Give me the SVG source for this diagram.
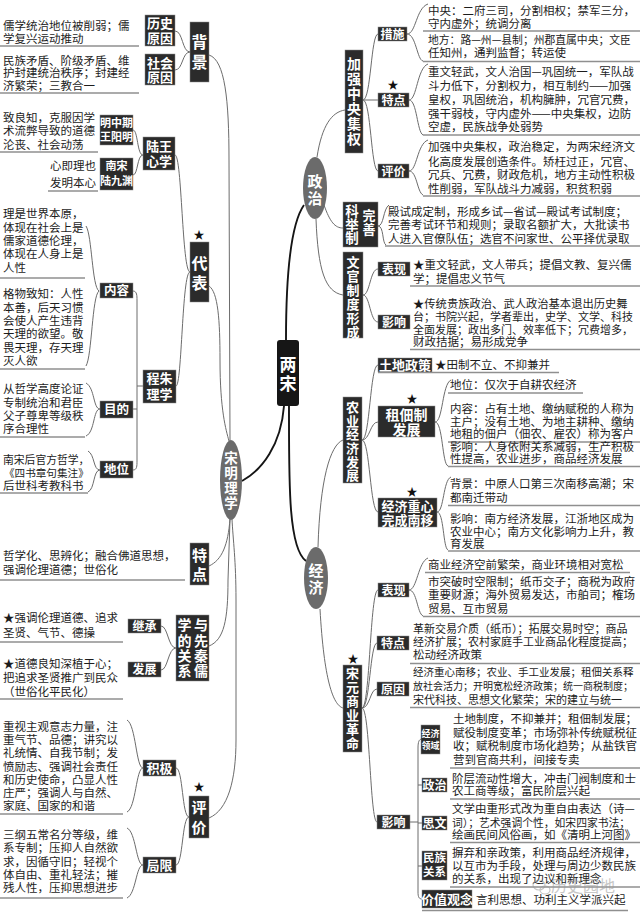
<svg xmlns="http://www.w3.org/2000/svg" width="640" height="914" viewBox="0 0 640 914">
<style>
text{font-family:"Noto Sans CJK SC","Noto Sans",sans-serif}
.lf{font-size:11.5px;fill:#1c1c1c}
.bx{fill:#2b2b2b;stroke:#8a8a8a;stroke-width:0.5}
.bt{fill:#fff;text-anchor:middle;font-weight:bold}
.ul{stroke:#8f8f8f;stroke-width:1.3;fill:none}
.cn path{fill:none;stroke:#6c6c6c;stroke-width:1}
.cn path.mn{stroke:#151515;stroke-width:1.9}
.el{fill:#6b6b6b}
.st{font-size:11px;fill:#111;text-anchor:middle}
</style>
<rect width="640" height="914" fill="#fff"/>
<g id="connectors" class="cn">
<path class="mn" d="M286,340 C286,270 292,222 304,205"/>
<path class="mn" d="M284,406 C281,445 262,470 242,481"/>
<path class="mn" d="M289,406 C289,480 288,548 306,561"/>
<path d="M209,55 C225,60 229,100 229,160 L230,441"/>
<path d="M209,286 C218,292 220,320 220,360 C220,410 226,430 229,441"/>
<path d="M209,566 C222,560 228,545 230,519"/>
<path d="M209,646 C224,640 228,620 228,580 L230,519"/>
<path d="M209,818 C228,810 236,780 236,740 L236,600 C236,560 233,540 232,519"/>
<path d="M190,52 C182,52 183,31 175,31 M190,52 C182,52 183,70 175,70"/>
<path d="M190,272 C182,272 182,155 175,155 M190,272 C182,272 182,386 176,386"/>
<path d="M143,155 C137,155 138,130 133,130 M143,155 C137,155 138,175 133,175"/>
<path d="M133,291 C137,291 137,296 137,300 L137,461 C137,466 137,470 133,470 M137,386 L143,386 M133,409 L137,409"/>
<path d="M99,291 C92,287 92,235 86,226 M99,291 C92,296 92,356 86,366"/>
<path d="M100,409 C93,409 95,388 86,383 M100,409 C93,409 95,432 86,436"/>
<path d="M100,470 C93,470 95,455 88,451 M100,470 C93,470 95,489 88,492"/>
<path d="M176,648 C168,648 168,626 161,626 M176,648 C168,648 168,670 161,670"/>
<path d="M189,817 C182,817 183,768 176,768 M189,817 C182,817 183,865 176,865"/>
<path d="M143,768 C136,768 136,725 127,720 M143,768 C136,768 136,808 127,812"/>
<path d="M143,865 C136,865 136,832 127,828 M143,865 C136,865 136,894 127,898"/>
<path d="M317,157 C322,125 332,112 345,110"/>
<path d="M324,205 C330,222 335,228 343,228"/>
<path d="M316,219 C318,270 325,292 343,295"/>
<path d="M363,100 C371,100 371,34 378,34 M363,100 L378,100 M363,100 C371,100 371,171 378,171"/>
<path d="M407,34 C416,34 416,8 428,4 M407,34 C416,34 417,60 423,61"/>
<path d="M409,100 C417,100 417,68 428,64 M409,100 C417,100 417,132 423,135"/>
<path d="M409,171 C417,171 417,144 428,140 M409,171 C417,171 417,192 423,195"/>
<path d="M378,226 C384,226 383,209 389,205 M378,226 C384,226 382,243 386,245"/>
<path d="M363,295 C370,295 370,269 378,269 M363,295 C370,295 370,322 378,322"/>
<path d="M318,547 C320,480 330,445 343,440"/>
<path d="M320,609 C324,680 333,705 343,708"/>
<path d="M362,440 C370,440 370,365 378,365 M362,440 C370,440 370,422 378,422 M362,440 C370,440 370,512 378,512"/>
<path d="M435,422 C443,422 442,384 451,380 M435,422 C443,422 442,464 448,466"/>
<path d="M437,512 C444,512 443,480 451,477 M437,512 C444,512 443,548 448,550"/>
<path d="M362,708 C370,708 370,590 378,590 M362,708 C370,708 370,643 377,643 M362,708 C370,708 370,689 377,689 M362,708 C370,708 370,822 377,822"/>
<path d="M409,590 C417,590 418,562 428,558 M409,590 C417,590 417,613 423,616"/>
<path d="M410,822 L418,822 M422,739 C419,739 418,742 418,748 L418,892 C418,897 419,899 422,899 M418,785 L422,785 M418,823 L422,823 M418,866 L422,866"/>
</g>

<g id="liangsong"><rect x="277" y="340" width="22" height="66" rx="3" fill="#161616"/><text class="bt" x="288" y="371" font-size="17">两</text><text class="bt" x="288" y="390" font-size="17">宋</text></g>

<g id="songmingl"><ellipse class="el" cx="231" cy="480" rx="11" ry="40"/><text class="bt" font-size="13.5"><tspan x="231" y="463">宋</tspan><tspan x="231" y="478">明</tspan><tspan x="231" y="493">理</tspan><tspan x="231" y="508">学</tspan></text></g>
<g id="zhengzhi"><ellipse class="el" cx="315" cy="188" rx="12" ry="31"/><text class="bt" font-size="15"><tspan x="315" y="186.7">政</tspan><tspan x="315" y="203.7">治</tspan></text></g>
<g id="jingji"><ellipse class="el" cx="316" cy="578" rx="12" ry="31"/><text class="bt" font-size="15"><tspan x="316" y="575.7">经</tspan><tspan x="316" y="592.7">济</tspan></text></g>

<g id="beijing"><rect class="bx" x="190" y="22" width="19" height="60"/><text class="bt" font-size="16"><tspan x="199.5" y="48">背</tspan><tspan x="199.5" y="68">景</tspan></text></g>
<g id="lishi"><rect class="bx" x="145" y="15" width="30" height="31"/><text class="bt" font-size="13"><tspan x="160" y="28">历史</tspan><tspan x="160" y="43">原因</tspan></text>
<text class="lf" x="3" y="29.5">儒学统治地位被削弱；儒</text><text class="lf" x="3" y="42.5">学复兴运动推动</text><line class="ul" x1="0" y1="46" x2="139" y2="46"/></g>
<g id="shehui"><rect class="bx" x="145" y="54" width="30" height="31"/><text class="bt" font-size="13"><tspan x="160" y="68">社会</tspan><tspan x="160" y="82">原因</tspan></text>
<text class="lf" x="3" y="64.5">民族矛盾、阶级矛盾、维</text><text class="lf" x="3" y="77">护封建统治秩序；封建经</text><text class="lf" x="3" y="89.5">济繁荣；三教合一</text><line class="ul" x1="0" y1="93" x2="139" y2="93"/></g>

<g id="daibiao"><text class="st" x="199" y="239">★</text><rect class="bx" x="190" y="242" width="19" height="60"/><text class="bt" font-size="16"><tspan x="199.5" y="269">代</tspan><tspan x="199.5" y="289">表</tspan></text></g>
<g id="luwang"><rect class="bx" x="143" y="137" width="32" height="33"/><text class="bt" font-size="13"><tspan x="159" y="151">陆王</tspan><tspan x="159" y="166">心学</tspan></text></g>
<g id="wangyangming"><rect class="bx" x="100" y="115" width="33" height="30"/><text class="bt" font-size="11"><tspan x="116.5" y="127">明中期</tspan><tspan x="116.5" y="141">王阳明</tspan></text>
<text class="lf" x="3" y="121.5">致良知，克服因学</text><text class="lf" x="3" y="134.5">术流弊导致的道德</text><text class="lf" x="3" y="148.5">沦丧、社会动荡</text><line class="ul" x1="0" y1="152" x2="98" y2="152"/></g>
<g id="lujiuyuan"><rect class="bx" x="100" y="158" width="33" height="32"/><text class="bt" font-size="11"><tspan x="116.5" y="170.2">南宋</tspan><tspan x="116.5" y="185.2">陆九渊</tspan></text>
<text class="lf" x="50" y="169.5">心即理也</text><text class="lf" x="50" y="186.5">发明本心</text><line class="ul" x1="48" y1="191" x2="98" y2="191"/></g>

<g id="chengzhu"><rect class="bx" x="143" y="370" width="33" height="33"/><text class="bt" font-size="13"><tspan x="159.5" y="383">程朱</tspan><tspan x="159.5" y="399">理学</tspan></text></g>
<g id="neirong"><rect class="bx" x="100" y="283" width="33" height="15"/><text class="bt" font-size="12.5" x="116.5" y="295.3">内容</text>
<text class="lf" x="3" y="217.5">理是世界本原，</text><text class="lf" x="3" y="231.5">体现在社会上是</text><text class="lf" x="3" y="244.5">儒家道德伦理，</text><text class="lf" x="3" y="257.5">体现在人身上是</text><text class="lf" x="3" y="271.5">人性</text><line class="ul" x1="0" y1="278" x2="85" y2="278"/>
<text class="lf" x="3" y="297.5">格物致知：人性</text><text class="lf" x="3" y="311.5">本善，后天习惯</text><text class="lf" x="3" y="324.5">会使人产生违背</text><text class="lf" x="3" y="337.5">天理的欲望。敬</text><text class="lf" x="3" y="351.5">畏天理，存天理</text><text class="lf" x="3" y="364.5">灭人欲</text><line class="ul" x1="0" y1="369" x2="85" y2="369"/></g>
<g id="mudi"><rect class="bx" x="100" y="401" width="33" height="17"/><text class="bt" font-size="12.5" x="116.5" y="414.3">目的</text>
<text class="lf" x="3" y="392.5">从哲学高度论证</text><text class="lf" x="3" y="406.5">专制统治和君臣</text><text class="lf" x="3" y="419.5">父子尊卑等级秩</text><text class="lf" x="3" y="432.5">序合理性</text><line class="ul" x1="0" y1="437" x2="85" y2="437"/></g>
<g id="diwei"><rect class="bx" x="100" y="461" width="33" height="17"/><text class="bt" font-size="12.5" x="116.5" y="474.3">地位</text>
<text class="lf" x="3" y="463.5" style="font-size:10.8px">南宋后官方哲学，</text><text class="lf" x="4" y="476.5" style="font-size:10.6px">《四书章句集注》</text><text class="lf" x="3" y="489.5">后世科考教科书</text><line class="ul" x1="0" y1="493" x2="88" y2="493"/></g>

<g id="tedian-l"><rect class="bx" x="190" y="543" width="19" height="42"/><text class="bt" font-size="15"><tspan x="199.5" y="560.7">特</tspan><tspan x="199.5" y="579.7">点</tspan></text>
<text class="lf" x="3" y="559.5">哲学化、思辨化；融合佛道思想，</text><text class="lf" x="3" y="573.5">强调伦理道德；世俗化</text><line class="ul" x1="0" y1="580" x2="185" y2="580"/></g>

<g id="xianqin"><rect class="bx" x="176" y="615" width="33" height="66"/><text class="bt" font-size="14"><tspan x="184.5" y="630.3">学</tspan><tspan x="184.5" y="646.3">的</tspan><tspan x="184.5" y="661.3">关</tspan><tspan x="184.5" y="676.3">系</tspan><tspan x="201" y="630.3">与</tspan><tspan x="201" y="646.3">先</tspan><tspan x="201" y="661.3">秦</tspan><tspan x="201" y="676.3">儒</tspan></text></g>
<g id="jicheng"><rect class="bx" x="128" y="619" width="33" height="14"/><text class="bt" font-size="12" x="144.5" y="630.6">继承</text>
<text class="lf" x="3" y="621.5">★强调伦理道德、追求</text><text class="lf" x="3" y="636.5">圣贤、气节、德操</text><line class="ul" x1="0" y1="642" x2="123" y2="642"/></g>
<g id="fazhan"><rect class="bx" x="128" y="662" width="33" height="15"/><text class="bt" font-size="12" x="144.5" y="674.1">发展</text>
<text class="lf" x="3" y="667.5">★道德良知深植于心；</text><text class="lf" x="3" y="681.5">把追求圣贤推广到民众</text><text class="lf" x="3" y="695.5">（世俗化平民化）</text><line class="ul" x1="0" y1="699" x2="123" y2="699"/></g>

<g id="pingjia-l"><text class="st" x="199" y="791">★</text><rect class="bx" x="189" y="796" width="20" height="42"/><text class="bt" font-size="15"><tspan x="199" y="812.7">评</tspan><tspan x="199" y="832.7">价</tspan></text></g>
<g id="jiji"><rect class="bx" x="143" y="760" width="33" height="16"/><text class="bt" font-size="13" x="159.5" y="772.9">积极</text>
<text class="lf" x="3" y="731.4">重视主观意志力量，注</text><text class="lf" x="3" y="744.4">重气节、品德；讲究以</text><text class="lf" x="3" y="757.4">礼统情、自我节制；发</text><text class="lf" x="3" y="771.4">愤励志、强调社会责任</text><text class="lf" x="3" y="784.4">和历史使命，凸显人性</text><text class="lf" x="3" y="797.4">庄严；强调人与自然、</text><text class="lf" x="3" y="810.4">家庭、国家的和谐</text><line class="ul" x1="0" y1="814" x2="123" y2="814"/></g>
<g id="juxian"><rect class="bx" x="143" y="857" width="33" height="16"/><text class="bt" font-size="13" x="159.5" y="869.9">局限</text>
<text class="lf" x="3" y="839.4">三纲五常名分等级，维</text><text class="lf" x="3" y="852.4">系专制；压抑人自然欲</text><text class="lf" x="3" y="866.4">求，因循守旧；轻视个</text><text class="lf" x="3" y="879.4">体自由、重礼轻法；摧</text><text class="lf" x="3" y="892.4">残人性，压抑思想进步</text><line class="ul" x1="0" y1="898" x2="123" y2="898"/></g>

<g id="jiaqiang"><rect class="bx" x="345" y="50" width="18" height="103"/><text class="bt" font-size="14"><tspan x="354" y="68.5">加</tspan><tspan x="354" y="83.5">强</tspan><tspan x="354" y="98.5">中</tspan><tspan x="354" y="113.5">央</tspan><tspan x="354" y="128.5">集</tspan><tspan x="354" y="143.5">权</tspan></text></g>
<g id="cuoshi"><rect class="bx" x="378" y="27" width="29" height="14"/><text class="bt" font-size="12" x="392.5" y="38.6">措施</text>
<text class="lf" x="428" y="15.4">中央：二府三司，分割相权；禁军三分，</text><text class="lf" x="428" y="27.9">守内虚外；统调分离</text><line class="ul" x1="423" y1="31" x2="640" y2="31"/>
<text class="lf" x="428" y="44.4" style="font-size:10.8px">地方：路—州—县制；州郡直属中央；文臣</text><text class="lf" x="428" y="57.4">任知州，通判监督；转运使</text><line class="ul" x1="423" y1="61.5" x2="640" y2="61.5"/></g>
<g id="tedian-r"><text class="st" x="393" y="89">★</text><rect class="bx" x="378" y="93" width="31" height="14"/><text class="bt" font-size="12" x="393.5" y="104.6">特点</text>
<text class="lf" x="428" y="76.1">重文轻武，文人治国—巩固统一，军队战</text><text class="lf" x="428" y="90.4">斗力低下，分割权力，相互制约——加强</text><text class="lf" x="428" y="104.4">皇权，巩固统治，机构臃肿，冗官冗费，</text><text class="lf" x="428" y="117.7">强干弱枝，守内虚外——中央集权，边防</text><text class="lf" x="428" y="131.1">空虚，民族战争处弱势</text><line class="ul" x1="423" y1="135" x2="640" y2="135"/></g>
<g id="pingjia-r"><rect class="bx" x="378" y="164" width="31" height="14"/><text class="bt" font-size="12" x="393.5" y="175.6">评价</text>
<text class="lf" x="428" y="151.1">加强中央集权，政治稳定，为两宋经济文</text><text class="lf" x="428" y="166.1">化高度发展创造条件。矫枉过正，冗官、</text><text class="lf" x="428" y="179.4">冗兵、冗费，财政危机，地方主动性积极</text><text class="lf" x="428" y="192.7">性削弱，军队战斗力减弱，积贫积弱</text><line class="ul" x1="423" y1="196" x2="640" y2="196"/></g>

<g id="keju"><rect class="bx" x="343" y="202" width="35" height="45"/><text class="bt" font-size="13.5"><tspan x="352" y="216">科</tspan><tspan x="352" y="229.5">举</tspan><tspan x="352" y="243">制</tspan></text><text class="bt" font-size="13"><tspan x="369" y="220">完</tspan><tspan x="369" y="234">善</tspan></text>
<text class="lf" x="388" y="216.1">殿试成定制，形成乡试—省试—殿试考试制度；</text><text class="lf" x="388" y="229.4">完善考试环节和规则；录取名额扩大，大批读书</text><text class="lf" x="388" y="242.7">人进入官僚队伍；选官不问家世、公平择优录取</text><line class="ul" x1="385" y1="246" x2="640" y2="246"/></g>

<g id="wenguan"><rect class="bx" x="343" y="252" width="20" height="86"/><text class="bt" font-size="13"><tspan x="353" y="267">文</tspan><tspan x="353" y="281">官</tspan><tspan x="353" y="295">制</tspan><tspan x="353" y="309">度</tspan><tspan x="353" y="323">形</tspan><tspan x="353" y="337">成</tspan></text></g>
<g id="biaoxian-w"><rect class="bx" x="378" y="262" width="32" height="14"/><text class="bt" font-size="12" x="394" y="273.6">表现</text>
<text class="lf" x="413" y="269.4">★重文轻武，文人带兵；提倡文教、复兴儒</text><text class="lf" x="413" y="282.7">学；提倡忠义节气</text><line class="ul" x1="410" y1="286" x2="640" y2="286"/></g>
<g id="yingxiang-w"><rect class="bx" x="378" y="315" width="32" height="14"/><text class="bt" font-size="12" x="394" y="326.6">影响</text>
<text class="lf" x="413" y="307.7" style="font-size:11.3px">★传统贵族政治、武人政治基本退出历史舞</text><text class="lf" x="413" y="321.1" style="font-size:11px">台；书院兴起，学者辈出，史学、文学、科技</text><text class="lf" x="413" y="334.4" style="font-size:11px">全面发展；政出多门、效率低下；冗费增多，</text><text class="lf" x="413" y="346.1">财政拮据；易形成党争</text><line class="ul" x1="410" y1="349.5" x2="640" y2="349.5"/></g>

<g id="nongye"><rect class="bx" x="343" y="397" width="19" height="86"/><text class="bt" font-size="13"><tspan x="352.5" y="412">农</tspan><tspan x="352.5" y="426">业</tspan><tspan x="352.5" y="439">经</tspan><tspan x="352.5" y="453">济</tspan><tspan x="352.5" y="467">发</tspan><tspan x="352.5" y="480">展</tspan></text></g>
<g id="tudi"><rect class="bx" x="378" y="358" width="54" height="14"/><text class="bt" font-size="13" x="405" y="369.9">土地政策</text>
<text class="lf" x="435" y="368.6">★田制不立、不抑兼并</text><line class="ul" x1="378" y1="372.5" x2="559" y2="372.5"/></g>
<g id="zudian"><text class="st" x="412" y="403">★</text><rect class="bx" x="378" y="406" width="57" height="31"/><text class="bt" font-size="14"><tspan x="406.5" y="419.8">租佃制</tspan><tspan x="406.5" y="434.8">发展</tspan></text>
<text class="lf" x="450" y="389.4">地位：仅次于自耕农经济</text><line class="ul" x1="448" y1="393" x2="583" y2="393"/>
<text class="lf" x="450" y="412.7">内容：占有土地、缴纳赋税的人称为</text><text class="lf" x="450" y="426.1">主户；没有土地、为地主耕种、缴纳</text><text class="lf" x="450" y="438.4">地租的佃户（佃农、雇农）称为客户</text><line class="ul" x1="448" y1="442" x2="640" y2="442"/>
<text class="lf" x="450" y="451.1">影响：人身依附关系减弱，生产积极</text><text class="lf" x="450" y="462.7">性提高，农业进步，商品经济发展</text><line class="ul" x1="448" y1="466.5" x2="640" y2="466.5"/></g>
<g id="zhongxin"><text class="st" x="412" y="496">★</text><rect class="bx" x="378" y="498" width="59" height="29"/><text class="bt" font-size="13"><tspan x="407.5" y="510.9">经济重心</tspan><tspan x="407.5" y="524.9">完成南移</tspan></text>
<text class="lf" x="450" y="487.7">背景：中原人口第三次南移高潮；宋</text><text class="lf" x="450" y="501.7">都南迁带动</text><line class="ul" x1="448" y1="505.5" x2="640" y2="505.5"/>
<text class="lf" x="450" y="522.7">影响：南方经济发展，江浙地区成为</text><text class="lf" x="450" y="536.1">农业中心；南方文化影响力上升，教</text><text class="lf" x="450" y="547.7">育发展</text><line class="ul" x1="448" y1="551" x2="640" y2="551"/></g>

<g id="songyuan"><text class="st" x="353" y="663">★</text><rect class="bx" x="343" y="665" width="19" height="87"/><text class="bt" font-size="13"><tspan x="352.5" y="678">宋</tspan><tspan x="352.5" y="692">元</tspan><tspan x="352.5" y="706">商</tspan><tspan x="352.5" y="720">业</tspan><tspan x="352.5" y="734">革</tspan><tspan x="352.5" y="748">命</tspan></text></g>
<g id="biaoxian-s"><rect class="bx" x="378" y="583" width="31" height="14"/><text class="bt" font-size="12" x="393.5" y="594.6">表现</text>
<text class="lf" x="428" y="569.4">商业经济空前繁荣，商业环境相对宽松</text><line class="ul" x1="425" y1="572.5" x2="630" y2="572.5"/>
<text class="lf" x="428" y="586.1">市突破时空限制；纸币交子；商税为政府</text><text class="lf" x="428" y="599.4">重要财源；海外贸易发达，市舶司；榷场</text><text class="lf" x="428" y="612.7">贸易、互市贸易</text><line class="ul" x1="423" y1="616.5" x2="640" y2="616.5"/></g>
<g id="tedian-s"><rect class="bx" x="377" y="636" width="32" height="14"/><text class="bt" font-size="12" x="393" y="647.6">特点</text>
<text class="lf" x="413" y="632.7" style="font-size:11px">革新交易介质（纸币）；拓展交易时空；商品</text><text class="lf" x="413" y="646.1" style="font-size:11px">经济扩展；农村家庭手工业商品化程度提高；</text><text class="lf" x="413" y="659.4">松动经济政策</text><line class="ul" x1="410" y1="663.5" x2="640" y2="663.5"/></g>
<g id="yuanyin-s"><rect class="bx" x="377" y="682" width="32" height="14"/><text class="bt" font-size="12" x="393" y="693.6">原因</text>
<text class="lf" x="413" y="676.1" style="font-size:10.5px">经济重心南移；农业、手工业发展；租佃关系释</text><text class="lf" x="413" y="690.4" style="font-size:10px">放社会活力；开明宽松经济政策；统一商税制度；</text><text class="lf" x="413" y="703.7" style="font-size:11px">宋代科技、思想文化繁荣；宋的建立与统一</text><line class="ul" x1="410" y1="707.5" x2="640" y2="707.5"/></g>
<g id="yingxiang-s"><rect class="bx" x="377" y="815" width="33" height="14"/><text class="bt" font-size="12" x="393.5" y="826.6">影响</text></g>
<g id="jingjilingyu"><rect class="bx" x="421" y="725" width="19" height="29"/><text class="bt" font-size="9"><tspan x="430.5" y="736.5">经济</tspan><tspan x="430.5" y="749.4">领域</tspan></text>
<text class="lf" x="453" y="722.7">土地制度，不抑兼并；租佃制发展；</text><text class="lf" x="453" y="737.1">赋役制度变革；市场弥补传统赋税征</text><text class="lf" x="453" y="750.4">收；赋税制度市场化趋势；从盐铁官</text><text class="lf" x="453" y="764.4">营到官商共利，间接专卖</text><line class="ul" x1="450" y1="768" x2="640" y2="768"/></g>
<g id="zhengzhi-s"><rect class="bx" x="422" y="778" width="25" height="14"/><text class="bt" font-size="12" x="434.5" y="789.6">政治</text>
<text class="lf" x="452" y="782.7">阶层流动性增大，冲击门阀制度和士</text><text class="lf" x="452" y="795.4">农工商等级；富民阶层兴起</text><line class="ul" x1="450" y1="799" x2="640" y2="799"/></g>
<g id="siwen"><rect class="bx" x="422" y="816" width="25" height="14"/><text class="bt" font-size="12" x="434.5" y="827.6">思文</text>
<text class="lf" x="452" y="813.4">文学由重形式改为重自由表达（诗—</text><text class="lf" x="452" y="826.7" style="font-size:10.8px">词）；艺术强调个性，如宋四家书法；</text><text class="lf" x="452" y="839.4">绘画民间风俗画，如《清明上河图》</text><line class="ul" x1="450" y1="842.5" x2="640" y2="842.5"/></g>
<g id="minzu"><rect class="bx" x="422" y="851" width="25" height="29"/><text class="bt" font-size="11.5"><tspan x="434.5" y="862.4">民族</tspan><tspan x="434.5" y="876.4">关系</tspan></text>
<text class="lf" x="452" y="856.7">摒弃和亲政策，利用商品经济规律，</text><text class="lf" x="452" y="870.1">以互市为手段，处理与周边少数民族</text><text class="lf" x="452" y="883.4">的关系，出现了边议和新理念</text><line class="ul" x1="450" y1="887" x2="640" y2="887"/></g>
<g id="jiazhi"><rect class="bx" x="422" y="890" width="50" height="18"/><text class="bt" font-size="13" x="447" y="904">价值观念</text>
<text class="lf" x="476" y="904.4">言利思想、功利主义学派兴起</text><line class="ul" x1="422" y1="910.5" x2="628" y2="910.5"/></g>

<g id="watermark" opacity="0.55"><ellipse cx="539" cy="885" rx="6" ry="5" fill="none" stroke="#999" stroke-width="1.2"/><ellipse cx="545" cy="890" rx="5" ry="4" fill="none" stroke="#999" stroke-width="1.2"/><text x="551" y="892" font-size="16" fill="#9a9a9a">历史园地</text></g>
</svg>
